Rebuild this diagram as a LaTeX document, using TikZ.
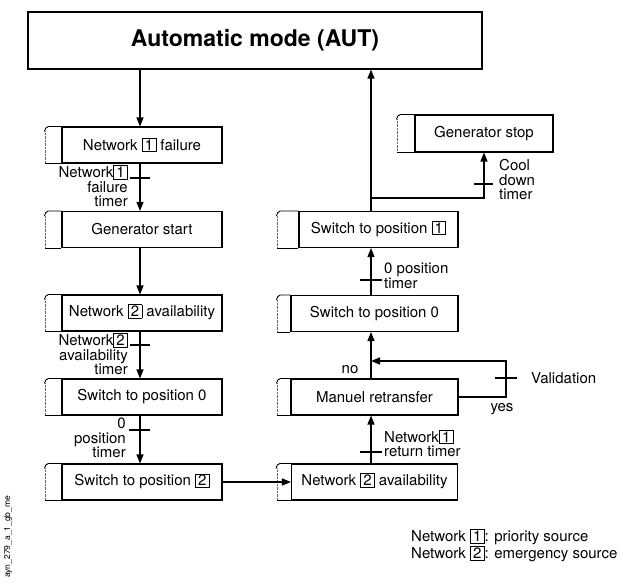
\documentclass[tikz,border=0pt]{standalone}
\usepackage{fontspec}
\setmainfont{TeX Gyre Heros}
\usetikzlibrary{arrows.meta}

% boxed network number
\newcommand\nb[1]{{\setlength\fboxsep{1pt}\setlength\fboxrule{0.8pt}\smash{\fbox{\makebox[0.72em]{#1}}}}}
\newcommand\lblfont{\fontsize{15}{14.5}\selectfont}

% bracket drawn to the left of a step box
\newcommand\stepbracket[2]{%
  \draw[bkline] (#1.north west) -- ([xshift=-#2+4pt]#1.north west)
        to[out=180,in=75] ([xshift=-#2, yshift=-5pt]#1.north west);
  \draw[bkfaint] ([xshift=-#2+1pt, yshift=-5pt]#1.north west) -- ([xshift=-#2+1pt]#1.south west);
  \draw[bkline] ([xshift=-#2+1pt]#1.south west) -- (#1.south west);}

\tikzset{
  stepbox/.style={draw, line width=1.1pt, minimum height=36pt, inner sep=0pt, font=\lblfont},
  conn/.style={line width=1.3pt},
  arr/.style={conn, -{Triangle[length=9pt,width=7pt]}},
  tick/.style={line width=1.1pt},
  lbl/.style={font=\lblfont, inner sep=0pt},
  bkline/.style={line width=0.9pt},
  bkfaint/.style={line width=0.4pt, densely dotted, black!60},
}

\begin{document}
\begin{tikzpicture}[x=1pt,y=-1pt]
\useasboundingbox (0,0) rectangle (623,584);

% main mode box
\node[stepbox, minimum width=454pt, minimum height=57pt] (aut) at (255,40.5)
  {\fontsize{23}{26}\selectfont\bfseries Automatic mode (AUT)};

% left sequence
\node[stepbox, minimum width=160pt] (n1f)  at (142,145)   {Network \nb{1} failure};
\node[stepbox, minimum width=160pt] (gst)  at (142,229.5) {Generator start};
\node[stepbox, minimum width=160pt] (n2a)  at (142,313)   {Network \nb{2} availability};
\node[stepbox, minimum width=160pt] (sw0l) at (142,397)   {Switch to position 0};
\node[stepbox, minimum width=160pt] (sw2)  at (142,482)   {Switch to position \nb{2}};

% right sequence
\node[stepbox, minimum width=166pt] (n2ar) at (374.5,482)   {Network \nb{2} availability};
\node[stepbox, minimum width=167pt] (man)  at (374.5,397)   {Manuel retransfer};
\node[stepbox, minimum width=167pt] (sw0r) at (374.5,313.5) {Switch to position 0};
\node[stepbox, minimum width=159pt] (sw1)  at (378.5,229.5) {Switch to position \nb{1}};
\node[stepbox, minimum width=138pt, minimum height=37pt] (gsp) at (484,133.5) {Generator stop};

% brackets
\stepbracket{n1f}{17pt}
\stepbracket{gst}{17pt}
\stepbracket{n2a}{17pt}
\stepbracket{sw0l}{17pt}
\stepbracket{sw2}{17pt}
\stepbracket{n2ar}{15pt}
\stepbracket{man}{14pt}
\stepbracket{sw0r}{14pt}
\stepbracket{sw1}{22pt}
\stepbracket{gsp}{18pt}

% connector guide lines
\coordinate (lx) at (140,0);
\coordinate (rx) at (371,0);
\coordinate (vr) at (506,0);
\coordinate (lp) at (0,361);
\coordinate (br) at (371,198);

% left chain
\draw[arr] (aut.south -| lx) -- (n1f.north -| lx);
\draw[arr] (n1f.south -| lx) -- (gst.north -| lx);
\draw[arr] (gst.south -| lx) -- (n2a.north -| lx);
\draw[arr] (n2a.south -| lx) -- (sw0l.north -| lx);
\draw[arr] (sw0l.south -| lx) -- (sw2.north -| lx);
\draw[arr] (sw2.east) -- (n2ar.west);

% right chain
\draw[arr] (n2ar.north -| rx) -- (man.south -| rx);
\draw[arr] (man.north -| rx) -- (sw0r.south -| rx);
\draw[arr] (sw0r.north -| rx) -- (sw1.south -| rx);
\draw[arr] (sw1.north -| rx) -- (aut.south -| rx);
\draw[arr] (br) -| (gsp.south);
\draw[arr] (man.east) -- (vr |- man.east) -- (vr |- lp) -- (rx |- lp);

% timer ticks
\draw[tick] (130,178) -- (150,178);
\draw[tick] (130,345) -- (150,345);
\draw[tick] (129,430) -- (150,430);
\draw[tick] (360,280) -- (382,280);
\draw[tick] (360,452) -- (382,452);
\draw[tick] (474,184) -- (493,184);
\draw[tick] (495,378) -- (517,378);

% transition labels
\node[lbl, anchor=east, align=right] (t1) at (128,187) {Network\nb{1}\\failure\\timer};
\node[lbl, anchor=east, align=right] (t2) at (128,355) {Network\nb{2}\\availability\\timer};
\node[lbl, anchor=east, align=right] (t3) at (126,438) {0\\position\\timer};
\node[lbl, anchor=west, align=left] (t4) at (384,276) {0 position\\timer};
\node[lbl, anchor=west, align=left] (t5) at (384,444) {Network\nb{1}\\return timer};
\node[lbl, anchor=west, align=left] (t6) at (499,180) {Cool\\down\\timer};
\node[lbl, anchor=west] (t7) at (531,378) {Validation};
\node[lbl] (yes) at (502,409) {yes};
\node[lbl] (no) at (350,370) {no};

% legend
\node[lbl, anchor=west, align=left, font=\fontsize{15}{17}\selectfont] (leg) at (411,546.5)
  {Network \nb{1}: priority source\\Network \nb{2}: emergency source};

% figure reference
\node[rotate=90, anchor=west, inner sep=0pt, font=\fontsize{8.5}{9}\selectfont] (ref) at (8,578)
  {ayn\_279\_a\_1\_gb\_me};
\end{tikzpicture}
\end{document}
